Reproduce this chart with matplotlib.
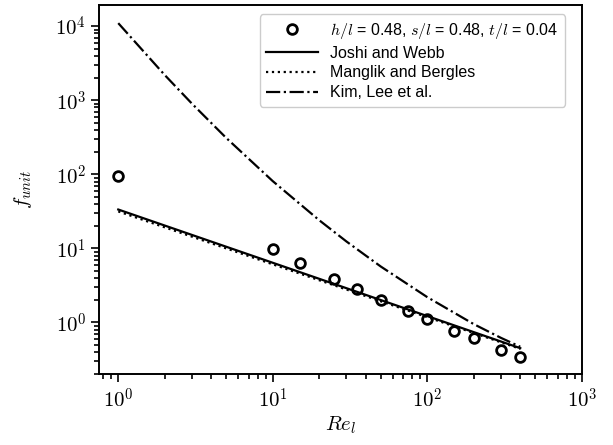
import matplotlib
matplotlib.use("Agg")
import matplotlib.pyplot as plt
from matplotlib.ticker import FuncFormatter
import numpy as np

plt.rcParams["font.family"] = ["Liberation Sans", "DejaVu Sans"]
plt.rcParams["mathtext.fontset"] = "cm"

# measured points
re_pts = np.array([1, 10, 15, 25, 35, 50, 75, 100, 150, 200, 300, 400])
f_pts = np.array([94, 9.7, 6.4, 3.9, 2.84, 2.04, 1.43, 1.11, 0.77, 0.61, 0.43, 0.34])

# correlations
re_line = np.array([1, 10, 100, 400])
f_joshi = np.array([33.5, 6.4, 1.22, 0.45])
f_manglik = np.array([31.6, 6.1, 1.18, 0.44])

re_kim = np.array([1, 2, 3, 5, 10, 20, 30, 50, 100, 200, 300, 400])
f_kim = np.array([11000, 2190, 900, 310, 81, 24, 12.4, 5.7, 2.2, 0.95, 0.62, 0.47])


def pow10(v, pos):
    return r"$10^{%d}$" % round(np.log10(v))


fig = plt.figure(figsize=(6.13, 4.45), dpi=100)
ax = fig.add_axes([0.162, 0.159, 0.787, 0.830])

ax.plot(re_pts, f_pts, "o", mfc="none", mec="black", mew=2, ms=7,
        label=r"$h/l$ = 0.48, $s/l$ = 0.48, $t/l$ = 0.04")
ax.plot(re_line, f_joshi, "-", c="black", lw=1.6, label="Joshi and Webb")
ax.plot(re_line, f_manglik, ":", c="black", lw=1.6, label="Manglik and Bergles")
ax.plot(re_kim, f_kim, "-.", c="black", lw=1.6, label="Kim, Lee et al.")

ax.set_xscale("log")
ax.set_yscale("log")
ax.set_xlim(0.754, 1000)
ax.set_ylim(0.2, 1.94e4)
ax.xaxis.set_major_formatter(FuncFormatter(pow10))
ax.yaxis.set_major_formatter(FuncFormatter(pow10))

ax.set_xlabel(r"$Re_l$", fontsize=15)
ax.set_ylabel(r"$f_{unit}$", fontsize=15)
ax.xaxis.set_label_coords(0.5, -0.11)
ax.yaxis.set_label_coords(-0.135, 0.5)
ax.tick_params(which="major", labelsize=15, length=6, width=1.2)
ax.tick_params(which="minor", length=3.5, width=1.2)
for s in ax.spines.values():
    s.set_linewidth(1.4)

ax.legend(loc="upper right", bbox_to_anchor=(0.985, 1.0), fontsize=11.5,
          numpoints=1, fancybox=True, edgecolor="#cccccc", framealpha=1,
          handlelength=3.2, labelspacing=0.3, borderaxespad=0.6)

plt.savefig("out.png", dpi=100)
